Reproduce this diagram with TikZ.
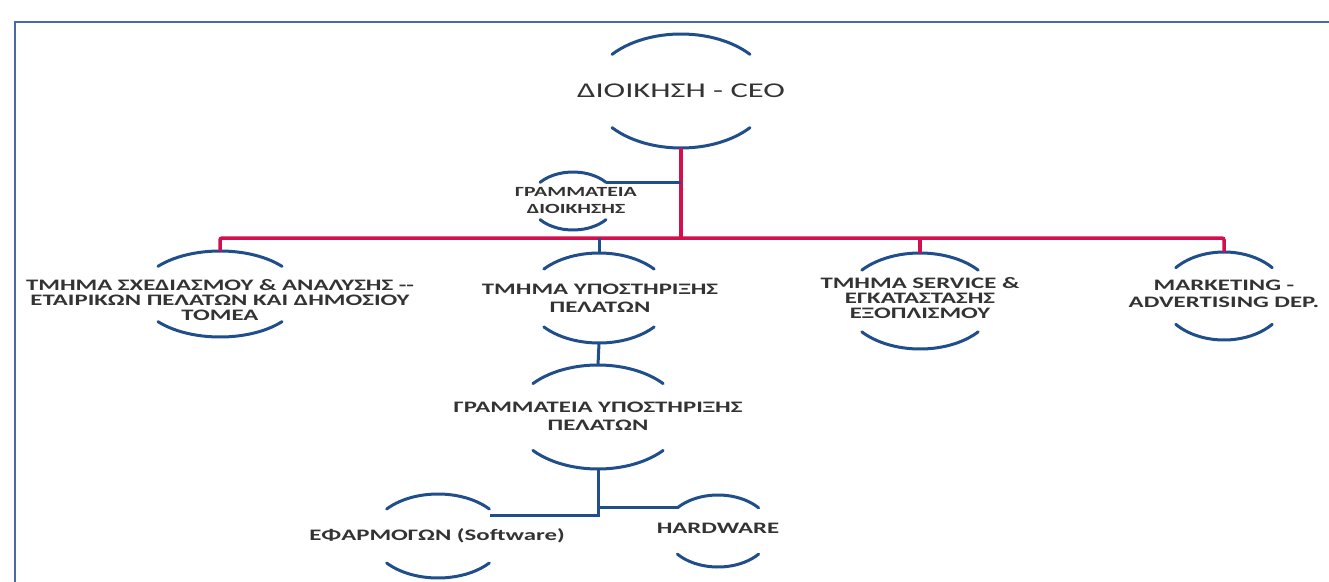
\documentclass[tikz,border=0pt]{standalone}
\usepackage{fontspec}
\setmainfont{Carlito}[FakeStretch=1.55]
\definecolor{arcblue}{HTML}{1F4E8A}
\definecolor{barred}{HTML}{D2104E}
\definecolor{framegray}{HTML}{4A69A5}
\definecolor{txtgray}{HTML}{333333}
\begin{document}
\begin{tikzpicture}[x=1pt, y=1pt,
        arcline/.style={draw=arcblue, line width=3pt, line cap=round},
        redline/.style={draw=barred, line width=3.5pt},
        blueline/.style={draw=arcblue, line width=3pt},
        frameline/.style={draw=framegray, line width=2pt},
        dept/.style={align=center, text=txtgray, inner sep=0pt, font=\bfseries\fontsize{16}{16}\selectfont},
        pics/brackets/.style 2 args={code={
            \draw[arcline] (140:#1pt and #2pt) arc[start angle=140, end angle=40, x radius=#1pt, y radius=#2pt];
            \draw[arcline] (220:#1pt and #2pt) arc[start angle=220, end angle=320, x radius=#1pt, y radius=#2pt];
            \coordinate (-top) at (0,#2);
            \coordinate (-bot) at (0,-#2);
            \coordinate (-ne) at (40:#1pt and #2pt);
            \coordinate (-nw) at (140:#1pt and #2pt);
        }}
    ]
        \useasboundingbox (0,0) rectangle (1329,-581);
        \draw[frameline] (15,-582) |- (1330,-22);

        % Management
        \pic (ceo) at (681,-91) {brackets={90}{57}};
        \node[dept, font=\fontsize{21}{24}\selectfont] (ceo_txt) at (681,-91) {ΔΙΟΙΚΗΣΗ - CEO};

        \pic (sec) at (573,-201) {brackets={43}{29}};
        \node[dept, font=\bfseries\fontsize{14}{17}\selectfont] (sec_txt) at (576,-201) {ΓΡΑΜΜΑΤΕΙΑ\\ΔΙΟΙΚΗΣΗΣ};

        % Departments
        \pic (plan) at (220,-294) {brackets={81}{43}};
        \node[dept, font=\bfseries\fontsize{16}{15}\selectfont] (plan_txt) at (220,-300) {ΤΜΗΜΑ ΣΧΕΔΙΑΣΜΟΥ \& ΑΝΑΛΥΣΗΣ -{}-\\ΕΤΑΙΡΙΚΩΝ ΠΕΛΑΤΩΝ ΚΑΙ ΔΗΜΟΣΙΟΥ\\ΤΟΜΕΑ};

        \pic (supp) at (599,-298) {brackets={72}{45}};
        \node[dept, font=\bfseries\fontsize{16}{18}\selectfont] (supp_txt) at (600,-298) {ΤΜΗΜΑ ΥΠΟΣΤΗΡΙΞΗΣ\\ΠΕΛΑΤΩΝ};

        \pic (serv) at (920,-301) {brackets={76}{48}};
        \node[dept, font=\bfseries\fontsize{16}{15}\selectfont] (serv_txt) at (920,-298) {ΤΜΗΜΑ SERVICE \&\\ΕΓΚΑΤΑΣΤΑΣΗΣ\\ΕΞΟΠΛΙΣΜΟΥ};

        \pic (mkt) at (1224,-296) {brackets={63}{44}};
        \node[dept, font=\bfseries\fontsize{16}{17}\selectfont] (mkt_txt) at (1224,-294) {MARKETING -\\ADVERTISING DEP.};

        % Support sub-units
        \pic (secsupp) at (598,-417) {brackets={85}{52}};
        \node[dept, font=\bfseries\fontsize{16}{18}\selectfont] (secsupp_txt) at (598,-416) {ΓΡΑΜΜΑΤΕΙΑ ΥΠΟΣΤΗΡΙΞΗΣ\\ΠΕΛΑΤΩΝ};

        \pic (soft) at (438,-536) {brackets={67}{42}};
        \node[dept] (soft_txt) at (437,-536) {ΕΦΑΡΜΟΓΩΝ (Software)};

        \pic (hard) at (718,-531) {brackets={53}{36}};
        \node[dept] (hard_txt) at (718,-528) {HARDWARE};

        % Connectors
        \coordinate (bar) at (681,-238);
        \coordinate (fork_l) at (490,-515);
        \coordinate (fork_r) at (hard-nw);
        \draw[redline, rounded corners=2pt] (plan-top) |- (bar) -| (mkt-top);
        \draw[redline] (ceo-bot) -- (bar);
        \draw[redline] (serv-top) -- (serv-top |- bar);
        \draw[blueline] (supp-top) -- (supp-top |- bar);
        \draw[blueline] (sec-ne) -- (sec-ne -| bar);

        \draw[blueline] (supp-bot) -- (secsupp-top);
        \draw[blueline] (secsupp-bot) |- (fork_l);
        \draw[blueline] (fork_r) -| (secsupp-bot);
\end{tikzpicture}
\end{document}
